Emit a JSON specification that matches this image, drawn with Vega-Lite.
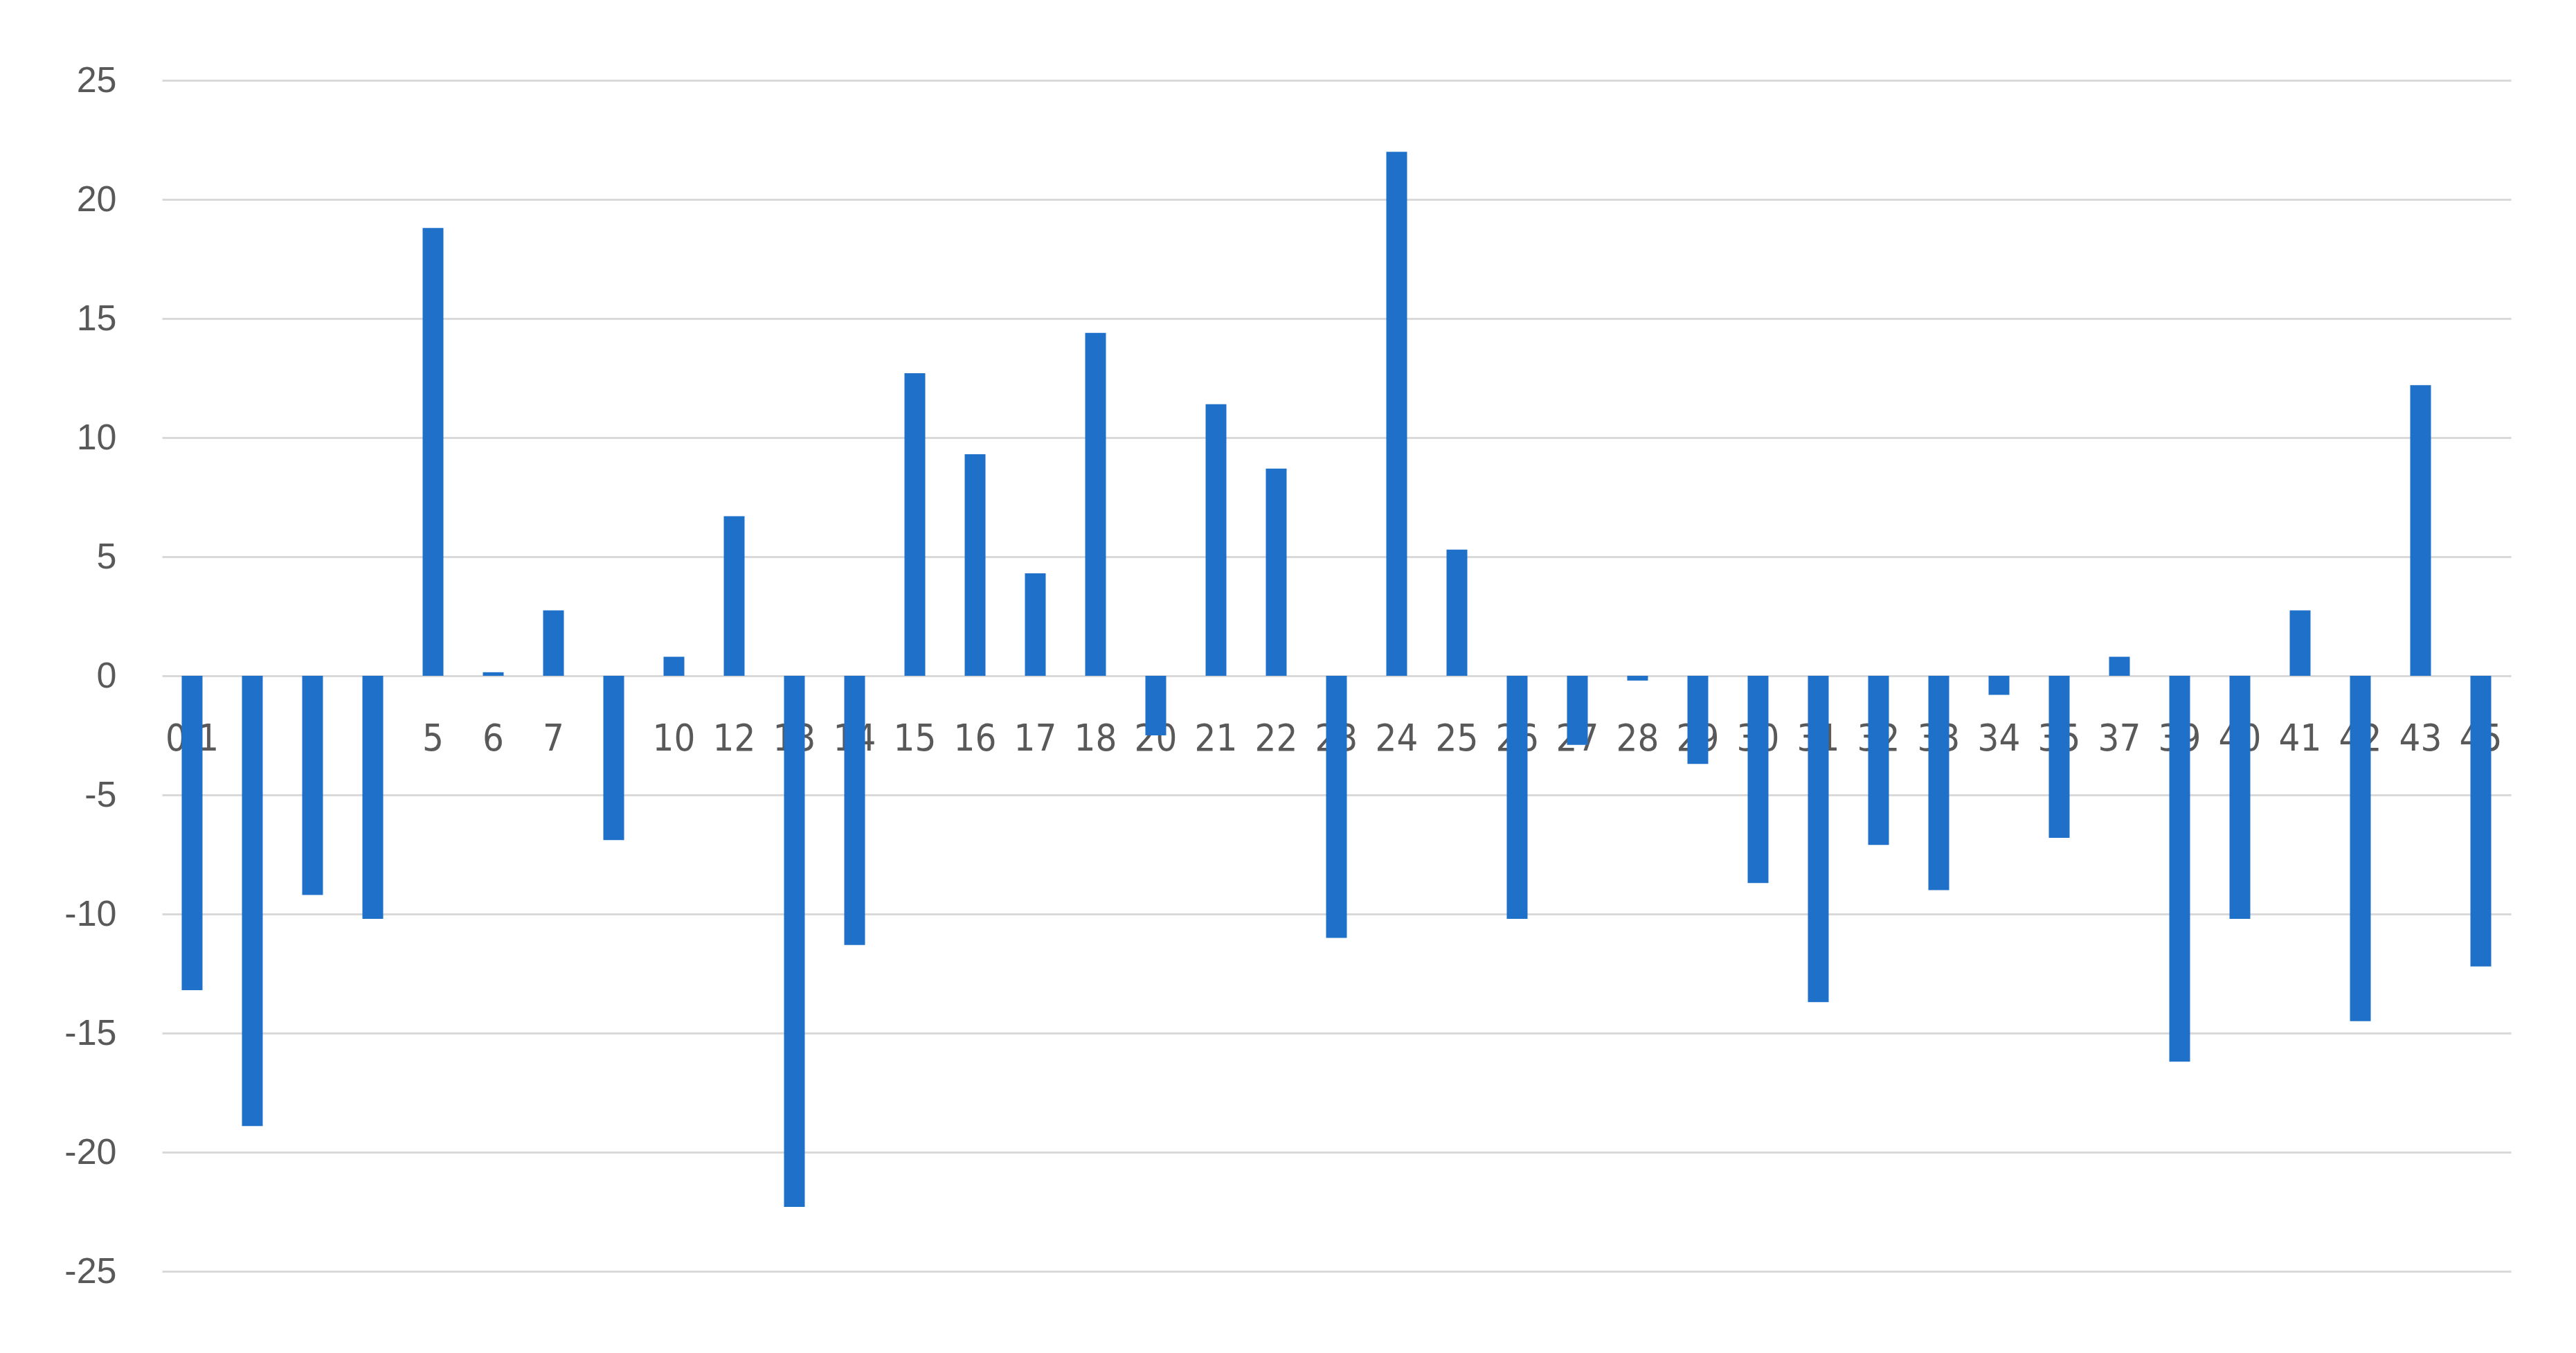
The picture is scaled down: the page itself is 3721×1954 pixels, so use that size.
{
  "$schema": "https://vega.github.io/schema/vega-lite/v6.json",
  "autosize": "none",
  "width": 3393,
  "height": 1720,
  "padding": {"left": 234, "top": 116, "right": 94, "bottom": 118},
  "background": "white",
  "config": {"view": {"stroke": null}},
  "data": {
    "values": [
      {"k": "0.1", "v": -13.2}, {"k": "1", "v": -18.9}, {"k": "3", "v": -9.2}, {"k": "4", "v": -10.2},
      {"k": "5", "v": 18.8}, {"k": "6", "v": 0.15}, {"k": "7", "v": 2.75}, {"k": "8", "v": -6.9},
      {"k": "10", "v": 0.8}, {"k": "12", "v": 6.7}, {"k": "13", "v": -22.3}, {"k": "14", "v": -11.3},
      {"k": "15", "v": 12.7}, {"k": "16", "v": 9.3}, {"k": "17", "v": 4.3}, {"k": "18", "v": 14.4},
      {"k": "20", "v": -2.5}, {"k": "21", "v": 11.4}, {"k": "22", "v": 8.7}, {"k": "23", "v": -11.0},
      {"k": "24", "v": 22.0}, {"k": "25", "v": 5.3}, {"k": "26", "v": -10.2}, {"k": "27", "v": -2.9},
      {"k": "28", "v": -0.2}, {"k": "29", "v": -3.7}, {"k": "30", "v": -8.7}, {"k": "31", "v": -13.7},
      {"k": "32", "v": -7.1}, {"k": "33", "v": -9.0}, {"k": "34", "v": -0.8}, {"k": "35", "v": -6.8},
      {"k": "37", "v": 0.8}, {"k": "39", "v": -16.2}, {"k": "40", "v": -10.2}, {"k": "41", "v": 2.75},
      {"k": "42", "v": -14.5}, {"k": "43", "v": 12.2}, {"k": "45", "v": -12.2}
    ]
  },
  "mark": {"type": "bar", "width": 30, "color": "#1f70c8"},
  "encoding": {
    "x": {
      "field": "k", "type": "nominal", "sort": null,
      "scale": {"paddingInner": 0, "paddingOuter": 0},
      "axis": {
        "title": null, "orient": "bottom", "offset": -860, "labelAngle": 0,
        "ticks": false, "domain": false, "grid": false, "labelPadding": 64,
        "labelFont": "Liberation Sans Narrow, DejaVu Sans Condensed, Liberation Sans", "labelFontSize": 54, "labelColor": "#595959",
        "labelOverlap": false, "labelBaseline": "top"
      }
    },
    "y": {
      "field": "v", "type": "quantitative",
      "scale": {"domain": [-25, 25], "nice": false, "zero": true},
      "axis": {
        "title": null, "values": [-25, -20, -15, -10, -5, 0, 5, 10, 15, 20, 25],
        "labelExpr": "toString(datum.value)",
        "ticks": false, "domain": false, "grid": true, "gridColor": "#d9d9d9", "gridWidth": 3,
        "labelPadding": 66, "labelFont": "Liberation Sans", "labelFontSize": 52,
        "labelColor": "#595959"
      }
    }
  }
}
